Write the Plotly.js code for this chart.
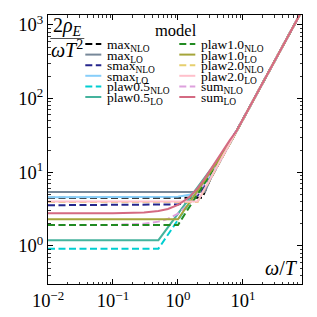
<!DOCTYPE html>
<html><head><meta charset="utf-8">
<script src="https://cdn.plot.ly/plotly-3.0.1.min.js"></script>
<style>html,body{margin:0;padding:0;background:#fff}#plot{width:317px;height:317px}</style>
</head><body><div id="plot"></div>
<script>
// ---- data (x = omega/T, y = 2 rho_E/(omega T^2)) ----
const tailX = [8, 10, 15, 20, 30, 40, 50, 60, 80];
const tailY = [36.6, 52.6, 101, 161, 312, 497, 713, 957, 1530];

const maxNLO_x = [0.01, 2.36, 3.14, 4, 5, 6.28];
const maxNLO_y = [4.5, 4.5, 8.05, 11.9, 17.3, 24.5];
const maxLO_x = [0.01, 2.59, 3.14, 4, 5, 6.28];
const maxLO_y = [5.4, 5.4, 8.05, 11.9, 17.3, 24.5];
const smax_x = [0.01, 1, 1.5, 2, 2.5, 3.14, 4, 5, 6.28];
const smaxNLO_y = [3.57, 3.66, 4.01, 4.84, 6.19, 8.81, 12.4, 17.7, 24.8];
const smaxLO_y = [4.6, 4.67, 4.95, 5.64, 6.87, 9.27, 12.8, 17.9, 24.9];
const plaw05_x = [0.01, 0.5, 6.28];
const plaw05NLO_y = [0.92, 0.92, 24.5];
const plaw05LO_y = [1.2, 1.2, 24.5];
const plaw10_x = [0.01, 1, 6.28];
const plaw10NLO_y = [1.93, 1.93, 24.5];
const plaw10LO_y = [2.3, 2.3, 24.5];
const plaw20_x = [0.01, 2, 6.28];
const plaw20NLO_y = [3.95, 3.95, 24.5];
const plaw20LO_y = [4.0, 4.0, 24.5];
const sum_x = [0.01, 0.1, 0.3, 0.5, 0.7, 1, 1.5, 2, 2.5, 3.14, 4, 5, 6.28];
const sumNLO_y = [1.93, 1.93, 2.0, 2.14, 2.33, 2.75, 3.77, 5.19, 7.03, 9.98, 13.8, 19.2, 26.4];
const sumLO_y = [2.78, 2.78, 2.85, 2.99, 3.18, 3.6, 4.62, 6.04, 7.88, 10.8, 14.7, 20.1, 27.3];

const names = ["max", "max", "smax", "smax", "plaw0.5", "plaw0.5",
               "plaw1.0", "plaw1.0", "plaw2.0", "plaw2.0", "sum", "sum"];
const orders = ["NLO", "LO", "NLO", "LO", "NLO", "LO", "NLO", "LO", "NLO", "LO", "NLO", "LO"];
const seriesX = [maxNLO_x, maxLO_x, smax_x, smax_x, plaw05_x, plaw05_x,
                 plaw10_x, plaw10_x, plaw20_x, plaw20_x, sum_x, sum_x];
const seriesY = [maxNLO_y, maxLO_y, smaxNLO_y, smaxLO_y, plaw05NLO_y, plaw05LO_y,
                 plaw10NLO_y, plaw10LO_y, plaw20NLO_y, plaw20LO_y, sumNLO_y, sumLO_y];
const colors = ["#000000", "#778899", "#25258c", "#87cefa", "#00ced1", "#45b39d",
                "#228b22", "#a5a53a", "#e6cf6e", "#ffc0cb", "#dda0dd", "#d46a82"];
const drawOrder = [0, 1, 2, 3, 4, 5, 10, 6, 7, 8, 9, 11];

const xTickVals = [0.01, 0.1, 1, 10];
const xTickText = ["10<sup>−2</sup>", "10<sup>−1</sup>", "10<sup>0</sup>", "10<sup>1</sup>"];
const yTickVals = [1, 10, 100, 1000];
const yTickText = ["10<sup>0</sup>", "10<sup>1</sup>", "10<sup>2</sup>", "10<sup>3</sup>"];

const FONT = "Liberation Serif";
const L = 47.7, R = 301.7, T = 15, B = 284;
const px = v => (v - L) / (R - L);
const py = v => (B - v) / (B - T);

const traces = drawOrder.map(i => ({
  type: "scatter", mode: "lines",
  x: seriesX[i].concat(tailX), y: seriesY[i].concat(tailY),
  line: {color: colors[i], width: 2, dash: orders[i] === "NLO" ? "7px,3.5px" : "solid"},
  name: names[i] + orders[i], showlegend: false, hoverinfo: "skip"
}));

const annotations = [];
const shapes = [];
const rowY = [44, 54.6, 65.2, 75.8, 86.4, 97];
const colSample = [[85, 101], [179, 195]];
const colText = [106, 200];
for (let i = 0; i < names.length; i++) {
  const c = Math.floor(i / 6), r = i % 6;
  shapes.push({type: "line", xref: "paper", yref: "paper",
    x0: px(colSample[c][0]), x1: px(colSample[c][1]), y0: py(rowY[r]), y1: py(rowY[r]),
    line: {color: colors[i], width: 2, dash: orders[i] === "NLO" ? "7px,3.5px" : "solid"}});
  annotations.push({xref: "paper", yref: "paper", x: px(colText[c]), y: py(rowY[r] + 1.5),
    xanchor: "left", yanchor: "middle", showarrow: false, borderpad: 0,
    text: names[i] + "<sub>" + orders[i] + "</sub>",
    font: {family: FONT, size: 13.5, color: "#000"}});
}
annotations.push({xref: "paper", yref: "paper", x: px(176), y: py(31), xanchor: "center", yanchor: "middle",
  showarrow: false, text: "model", font: {family: FONT, size: 16.5, color: "#000"}});
annotations.push({xref: "paper", yref: "paper", x: px(67), y: py(26), xanchor: "center", yanchor: "middle",
  showarrow: false, text: "2<i>ρ</i><sub><i>E</i></sub>", font: {family: FONT, size: 20, color: "#000"}});
annotations.push({xref: "paper", yref: "paper", x: px(67), y: py(49), xanchor: "center", yanchor: "middle",
  showarrow: false, text: "<i>ωT</i><sup>2</sup>", font: {family: FONT, size: 20, color: "#000"}});
shapes.push({type: "line", xref: "paper", yref: "paper", x0: px(50), x1: px(84), y0: py(38.5), y1: py(38.5),
  line: {color: "#555", width: 1.2}});
annotations.push({xref: "paper", yref: "paper", x: px(300), y: py(268), xanchor: "right", yanchor: "middle",
  showarrow: false, text: "<i>ω</i>/<i>T</i>", font: {family: FONT, size: 20, color: "#000"}});

function minorVals(lo, hi) {
  const out = [];
  for (let d = lo; d <= hi; d++) for (let k = 2; k <= 9; k++) out.push(k * Math.pow(10, d));
  return out;
}

const axisCommon = {
  type: "log", showgrid: false, zeroline: false, showline: true, linecolor: "#000", linewidth: 1.2,
  mirror: "ticks", ticks: "inside", ticklen: 5, tickwidth: 1, tickcolor: "#000",
  tickmode: "array",
  tickfont: {family: FONT, size: 18.5, color: "#000"}
};

const layout = {
  width: 317, height: 317,
  margin: {l: L, r: 317 - R, t: T, b: 317 - B, pad: 0},
  paper_bgcolor: "#fff", plot_bgcolor: "#fff",
  font: {family: FONT},
  showlegend: false,
  xaxis: Object.assign({}, axisCommon, {range: [-2, 1.908], tickvals: xTickVals, ticktext: xTickText,
    minor: {ticks: "inside", ticklen: 2.5, tickwidth: 0.8, tickcolor: "#000", tickvals: minorVals(-2, 1), showgrid: false}}),
  yaxis: Object.assign({}, axisCommon, {range: [-0.516, 3.134], tickvals: yTickVals, ticktext: yTickText,
    minor: {ticks: "inside", ticklen: 2.5, tickwidth: 0.8, tickcolor: "#000", tickvals: minorVals(-1, 3), showgrid: false}}),
  annotations: annotations, shapes: shapes
};

Plotly.newPlot("plot", traces, layout, {staticPlot: true, displayModeBar: false});
</script></body></html>
